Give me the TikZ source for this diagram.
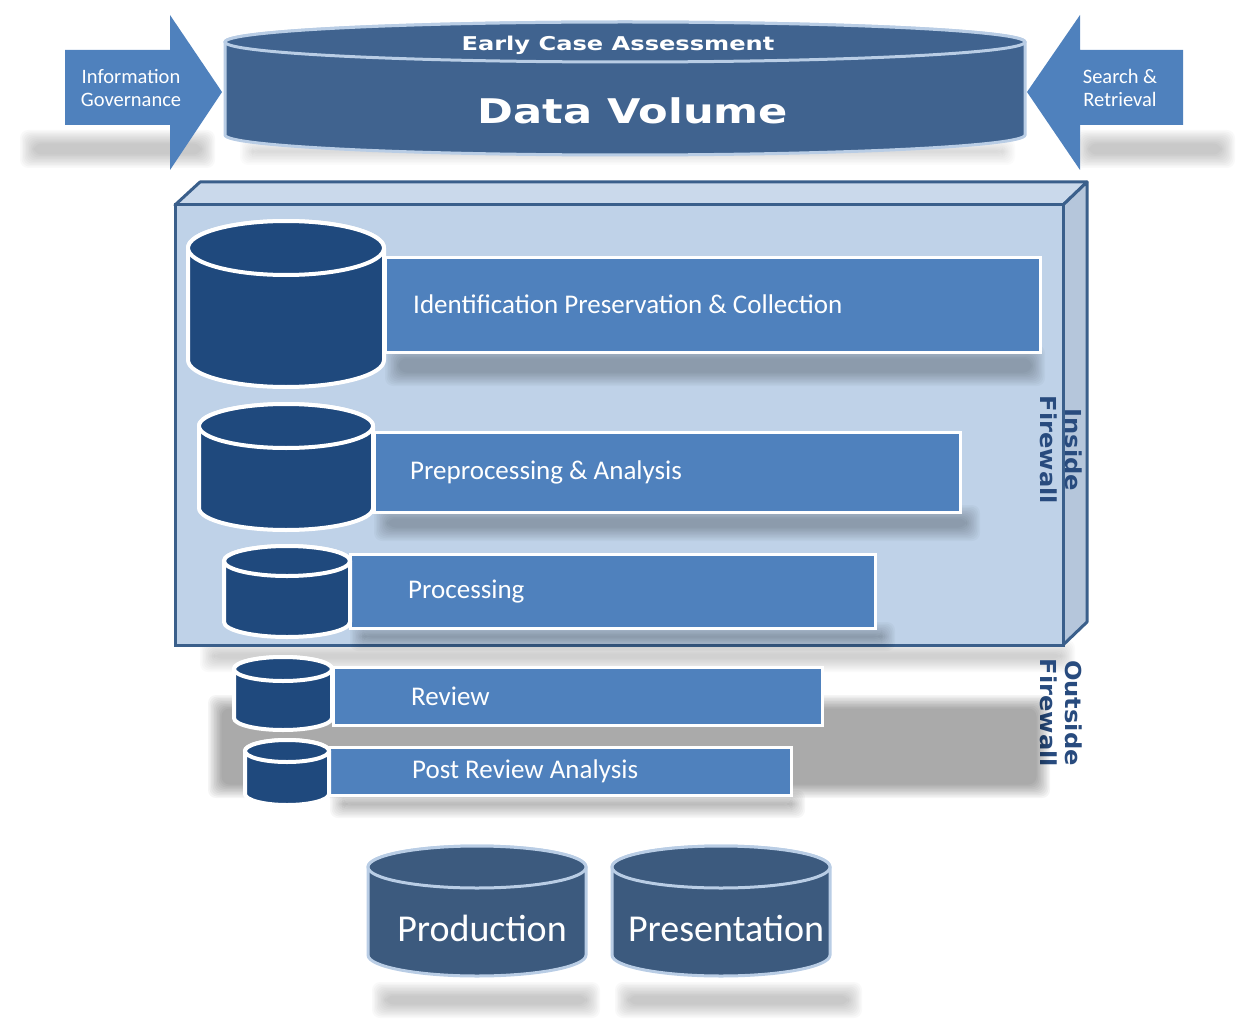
\documentclass[tikz,border=0pt]{standalone}
\usepackage{fontspec}
\setmainfont{Carlito}
\newfontfamily\headfont[FakeStretch=1.27]{DejaVu Sans}
\newfontfamily\fwfont[FakeStretch=1.1]{DejaVu Sans}
\usetikzlibrary{positioning}

\definecolor{arrowblue}{HTML}{4F81BD}
\definecolor{dvfill}{HTML}{40638F}
\definecolor{dvline}{HTML}{B9CDE5}
\definecolor{boxfront}{HTML}{BFD2E8}
\definecolor{boxtop}{HTML}{CAD9EB}
\definecolor{boxside}{HTML}{B5C6DB}
\definecolor{boxline}{HTML}{3A5F8B}
\definecolor{cylfill}{HTML}{1F497D}
\definecolor{outfill}{HTML}{3C5A7E}
\definecolor{fwtext}{HTML}{284B7E}

% soft grey shadow under a shape
\newcommand{\softshade}[5]{%
  \foreach \s in {0,...,9}{%
    \fill[black,opacity=#5,rounded corners=8pt]
      (#1+\s*1.5,#2+\s*1.5) rectangle (#3-\s*1.5,#4-\s*1.5);}}

% cylinder: [style]{cx}{top y}{bottom y}{rx}{ry}
\newcommand{\dbcyl}[6][]{%
  \path[#1] (#2-#5,#3) -- (#2-#5,#4)
    arc[start angle=180,end angle=0,x radius=#5,y radius=#6]
    -- (#2+#5,#3)
    arc[start angle=0,end angle=-180,x radius=#5,y radius=#6] -- cycle;
  \path[#1] (#2,#3) ellipse[x radius=#5,y radius=#6];}

\tikzset{
  stagecyl/.style={fill=cylfill,draw=white,line width=4pt},
  stagebar/.style={fill=arrowblue,draw=white,line width=3pt},
  stagetext/.style={text=white,anchor=west,inner sep=0pt,
    font=\fontsize{27}{30}\selectfont},
  sidetext/.style={text=white,align=center,inner sep=0pt,
    font=\fontsize{20.5}{23}\selectfont},
  fwlabel/.style={text=fwtext,align=center,rotate=-90,inner sep=0pt,
    font=\fwfont\bfseries\fontsize{22}{25}\selectfont},
  outcyl/.style={fill=outfill,draw=dvline,line width=3pt},
  outtext/.style={text=white,font=\fontsize{38}{42}\selectfont},
}

\begin{document}
\begin{tikzpicture}[x=1pt,y=-1pt]
  \useasboundingbox (0,0) rectangle (1249,1032);

  % shadows under the top row
  \softshade{20}{130}{215}{168}{0.022}
  \softshade{1075}{130}{1235}{168}{0.022}
  \softshade{240}{138}{1015}{165}{0.015}

  % side arrows
  \fill[arrowblue] (65,50) -- (170,50) -- (170,15) -- (222,92)
    -- (170,170) -- (170,125) -- (65,125) -- cycle;
  \node[sidetext] (govern) at (131,88) {Information\\Governance};
  \fill[arrowblue] (1183,50) -- (1080,50) -- (1080,15) -- (1027,92)
    -- (1080,170) -- (1080,125) -- (1183,125) -- cycle;
  \node[sidetext] (search) at (1120,88) {Search \&\\Retrieval};

  % data volume drum
  \dbcyl[fill=dvfill,draw=dvline,line width=3pt]{625}{42}{135}{400}{20}
  \node[text=white,font=\headfont\bfseries\fontsize{19}{20}\selectfont]
    (eca) at (618,45) {Early Case Assessment};
  \node[text=white,font=\headfont\bfseries\fontsize{34}{40}\selectfont]
    (volume) at (633,111) {Data Volume};

  % firewall box
  \softshade{200}{640}{1075}{672}{0.018}
  \filldraw[fill=boxtop,draw=boxline,line width=3pt,line join=round]
    (175,205) -- (200,182) -- (1087,182) -- (1063,205) -- cycle;
  \filldraw[fill=boxside,draw=boxline,line width=3pt,line join=round]
    (1063,205) -- (1087,182) -- (1087,622) -- (1063,645) -- cycle;
  \filldraw[fill=boxfront,draw=boxline,line width=3pt]
    (175,205) rectangle (1063,645);
  \node[fwlabel] (inside) at (1061,450) {Inside\\Firewall};
  \node[fwlabel] (outside) at (1061,713) {Outside\\Firewall};

  % stages inside the firewall
  \softshade{385}{345}{1045}{386}{0.028}
  \softshade{374}{505}{980}{541}{0.028}
  \softshade{350}{622}{895}{651}{0.028}
  \filldraw[stagebar] (385,257) rectangle (1040,352);
  \dbcyl[stagecyl]{286}{248}{360}{98}{27}
  \node[stagetext] (ident) at (413,304) {Identification Preservation \& Collection};
  \filldraw[stagebar] (374,432) rectangle (960,512);
  \dbcyl[stagecyl]{286}{426}{508}{87}{22}
  \node[stagetext] (prep) at (410,472) {Preprocessing \& Analysis};
  \filldraw[stagebar] (350,554) rectangle (875,628);
  \dbcyl[stagecyl]{287}{561}{622}{63}{15}
  \node[stagetext] (proc) at (408,592) {Processing};

  % stages outside the firewall
  \softshade{208}{695}{1050}{798}{0.038}
  \softshade{330}{790}{805}{818}{0.03}
  \filldraw[stagebar] (333,667) rectangle (822,725);
  \dbcyl[stagecyl]{283}{669}{718}{49}{12}
  \node[stagetext] (review) at (411,696) {Review};
  \filldraw[stagebar] (329,747) rectangle (791,795);
  \dbcyl[stagecyl]{287}{751}{794}{42}{11}
  \node[stagetext] (post) at (412,771) {Post Review Analysis};

  % output drums
  \softshade{372}{982}{600}{1018}{0.022}
  \softshade{615}{982}{862}{1018}{0.022}
  \dbcyl[outcyl]{477}{867}{955}{109}{21}
  \node[outtext] (prod) at (482,928) {Production};
  \dbcyl[outcyl]{721}{867}{955}{109}{21}
  \node[outtext] (pres) at (726,928) {Presentation};
\end{tikzpicture}
\end{document}
